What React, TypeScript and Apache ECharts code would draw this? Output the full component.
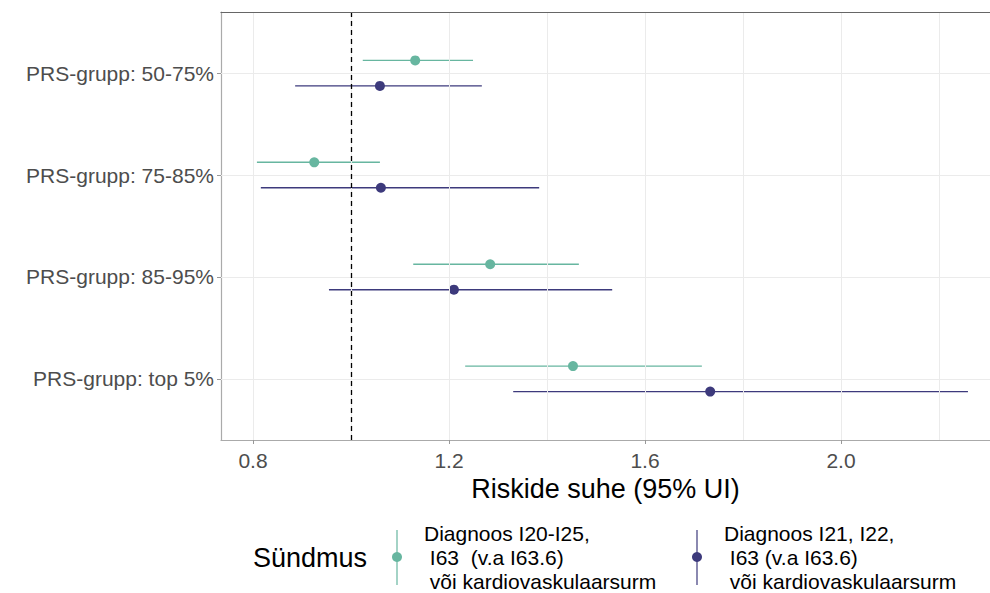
import React, { useEffect, useRef } from "react";
import * as echarts from "echarts";

// categories from top to bottom
const categories = [
  "PRS-grupp: 50-75%",
  "PRS-grupp: 75-85%",
  "PRS-grupp: 85-95%",
  "PRS-grupp: top 5%",
];

const tealEst = [1.131, 0.925, 1.284, 1.453];
const tealLow = [1.024, 0.808, 1.127, 1.233];
const tealHigh = [1.249, 1.059, 1.465, 1.716];

const purpleEst = [1.059, 1.061, 1.21, 1.733];
const purpleLow = [0.886, 0.816, 0.955, 1.331];
const purpleHigh = [1.267, 1.384, 1.533, 2.259];

const xTickLabels = [0.8, 1.2, 1.6, 2.0];
const xGridValues = [0.8, 1.0, 1.2, 1.4, 1.6, 1.8, 2.0, 2.2];
const refValue = 1.0;

const legendTitle = "Sündmus";
const seriesNames = [
  "Diagnoos I20-I25,\n I63  (v.a I63.6)\n või kardiovaskulaarsurm",
  "Diagnoos I21, I22,\n I63 (v.a I63.6)\n või kardiovaskulaarsurm",
];

const TEAL = "#67b6a0";
const PURPLE = "#3d3a7c";
const FONT = "Liberation Sans, Arial, sans-serif";
const DODGE = 0.125;

export default function App() {
  const ref = useRef<HTMLDivElement>(null);
  useEffect(() => {
    document.body.style.margin = "0";
    if (!ref.current) return;
    const chart = echarts.init(ref.current, undefined, { renderer: "svg" });
    const n = categories.length;
    const pos = (i: number) => n - i; // top category highest
    const yPositions = categories.map((_, i) => pos(i));

    const mkRange = (low: number[], high: number[], off: number) =>
      categories.map((_, i) => [low[i], high[i], pos(i) + off]);
    const mkPts = (est: number[], off: number) =>
      categories.map((_, i) => [est[i], pos(i) + off]);

    const renderBar = (color: string) => (params: any, api: any) => {
      const a = api.coord([api.value(0), api.value(2)]);
      const b = api.coord([api.value(1), api.value(2)]);
      return {
        type: "line",
        shape: { x1: a[0], y1: a[1], x2: b[0], y2: b[1] },
        style: { stroke: color, lineWidth: 1.4 },
      };
    };

    const option: any = {
      animation: false,
      backgroundColor: "#ffffff",
      grid: {
        left: 221,
        right: 0,
        top: 12,
        bottom: 153,
        containLabel: false,
        show: false,
      },
      xAxis: {
        type: "value",
        min: 0.7347,
        max: 2.304,
        name: "Riskide suhe (95% UI)",
        nameLocation: "middle",
        nameGap: 31,
        nameTextStyle: { fontFamily: FONT, fontSize: 27, color: "#000" },
        axisLine: { show: true, onZero: false, lineStyle: { color: "#aaaaaa", width: 1.2 } },
        axisTick: {
          show: true,
          customValues: xTickLabels,
          length: 4,
          lineStyle: { color: "#999", width: 1 },
        },
        axisLabel: {
          customValues: xTickLabels,
          formatter: (v: number) => v.toFixed(1),
          fontFamily: FONT,
          fontSize: 21,
          color: "#4d4d4d",
          margin: 10,
        },
        splitLine: { show: false },
      },
      yAxis: {
        type: "value",
        min: 0.4,
        max: 4.6,
        axisLine: { show: true, onZero: false, lineStyle: { color: "#aaaaaa", width: 1.2 } },
        axisTick: {
          show: true,
          customValues: yPositions,
          length: 4,
          lineStyle: { color: "#999", width: 1 },
        },
        axisLabel: {
          customValues: yPositions,
          formatter: (v: number) => {
            const i = n - Math.round(v);
            return categories[i] ?? "";
          },
          fontFamily: FONT,
          fontSize: 21,
          color: "#4d4d4d",
          margin: 7,
        },
        splitLine: { show: false },
      },
      series: [
        {
          type: "line",
          data: [],
          silent: true,
          z: 1,
          markLine: {
            silent: true,
            symbol: "none",
            label: { show: false },
            lineStyle: { color: "#ebebeb", width: 1, type: "solid" },
            data: [
              ...xGridValues.map((v) => ({ xAxis: v })),
              ...yPositions.map((v) => ({ yAxis: v })),
            ],
          },
        },
        {
          type: "line",
          data: [],
          silent: true,
          z: 2,
          markLine: {
            silent: true,
            symbol: "none",
            label: { show: false },
            lineStyle: { color: "#000", width: 1.3, type: [5, 4] },
            data: [{ xAxis: refValue }],
          },
        },
        {
          type: "custom",
          name: seriesNames[0],
          renderItem: renderBar(TEAL),
          data: mkRange(tealLow, tealHigh, DODGE),
          encode: { x: [0, 1], y: 2 },
          z: 3,
        },
        {
          type: "custom",
          name: seriesNames[1],
          renderItem: renderBar(PURPLE),
          data: mkRange(purpleLow, purpleHigh, -DODGE),
          encode: { x: [0, 1], y: 2 },
          z: 3,
        },
        {
          type: "scatter",
          data: mkPts(tealEst, DODGE),
          symbolSize: 10,
          itemStyle: { color: TEAL, opacity: 1 },
          z: 4,
        },
        {
          type: "scatter",
          data: mkPts(purpleEst, -DODGE),
          symbolSize: 10,
          itemStyle: { color: PURPLE, opacity: 1 },
          z: 4,
        },
      ],
      graphic: [
        {
          type: "line",
          shape: { x1: 220.5, y1: 12.5, x2: 990, y2: 12.5 },
          style: { stroke: "#666666", lineWidth: 1.2 },
          z: 10,
        },
        {
          type: "text",
          x: 253,
          y: 558,
          style: {
            text: legendTitle,
            font: `27px ${FONT}`,
            fill: "#000",
            align: "left",
            verticalAlign: "middle",
          },
        },
        ...[
          { x: 397, color: TEAL, tx: 424, label: seriesNames[0] },
          { x: 697, color: PURPLE, tx: 724, label: seriesNames[1] },
        ].flatMap((k) => [
          {
            type: "line",
            shape: { x1: k.x, y1: 530, x2: k.x, y2: 585 },
            style: { stroke: k.color, lineWidth: 1.2 },
          },
          {
            type: "circle",
            shape: { cx: k.x, cy: 557, r: 5 },
            style: { fill: k.color },
          },
          ...k.label.split("\n").map((line, j) => ({
            type: "text",
            x: k.tx,
            y: 533 + j * 24,
            style: {
              text: line,
              font: `21px ${FONT}`,
              fill: "#000",
              align: "left",
              verticalAlign: "middle",
            },
          })),
        ]),
      ],
    };
    chart.setOption(option);
    return () => chart.dispose();
  }, []);
  return <div ref={ref} style={{ width: 990, height: 593 }} />;
}
